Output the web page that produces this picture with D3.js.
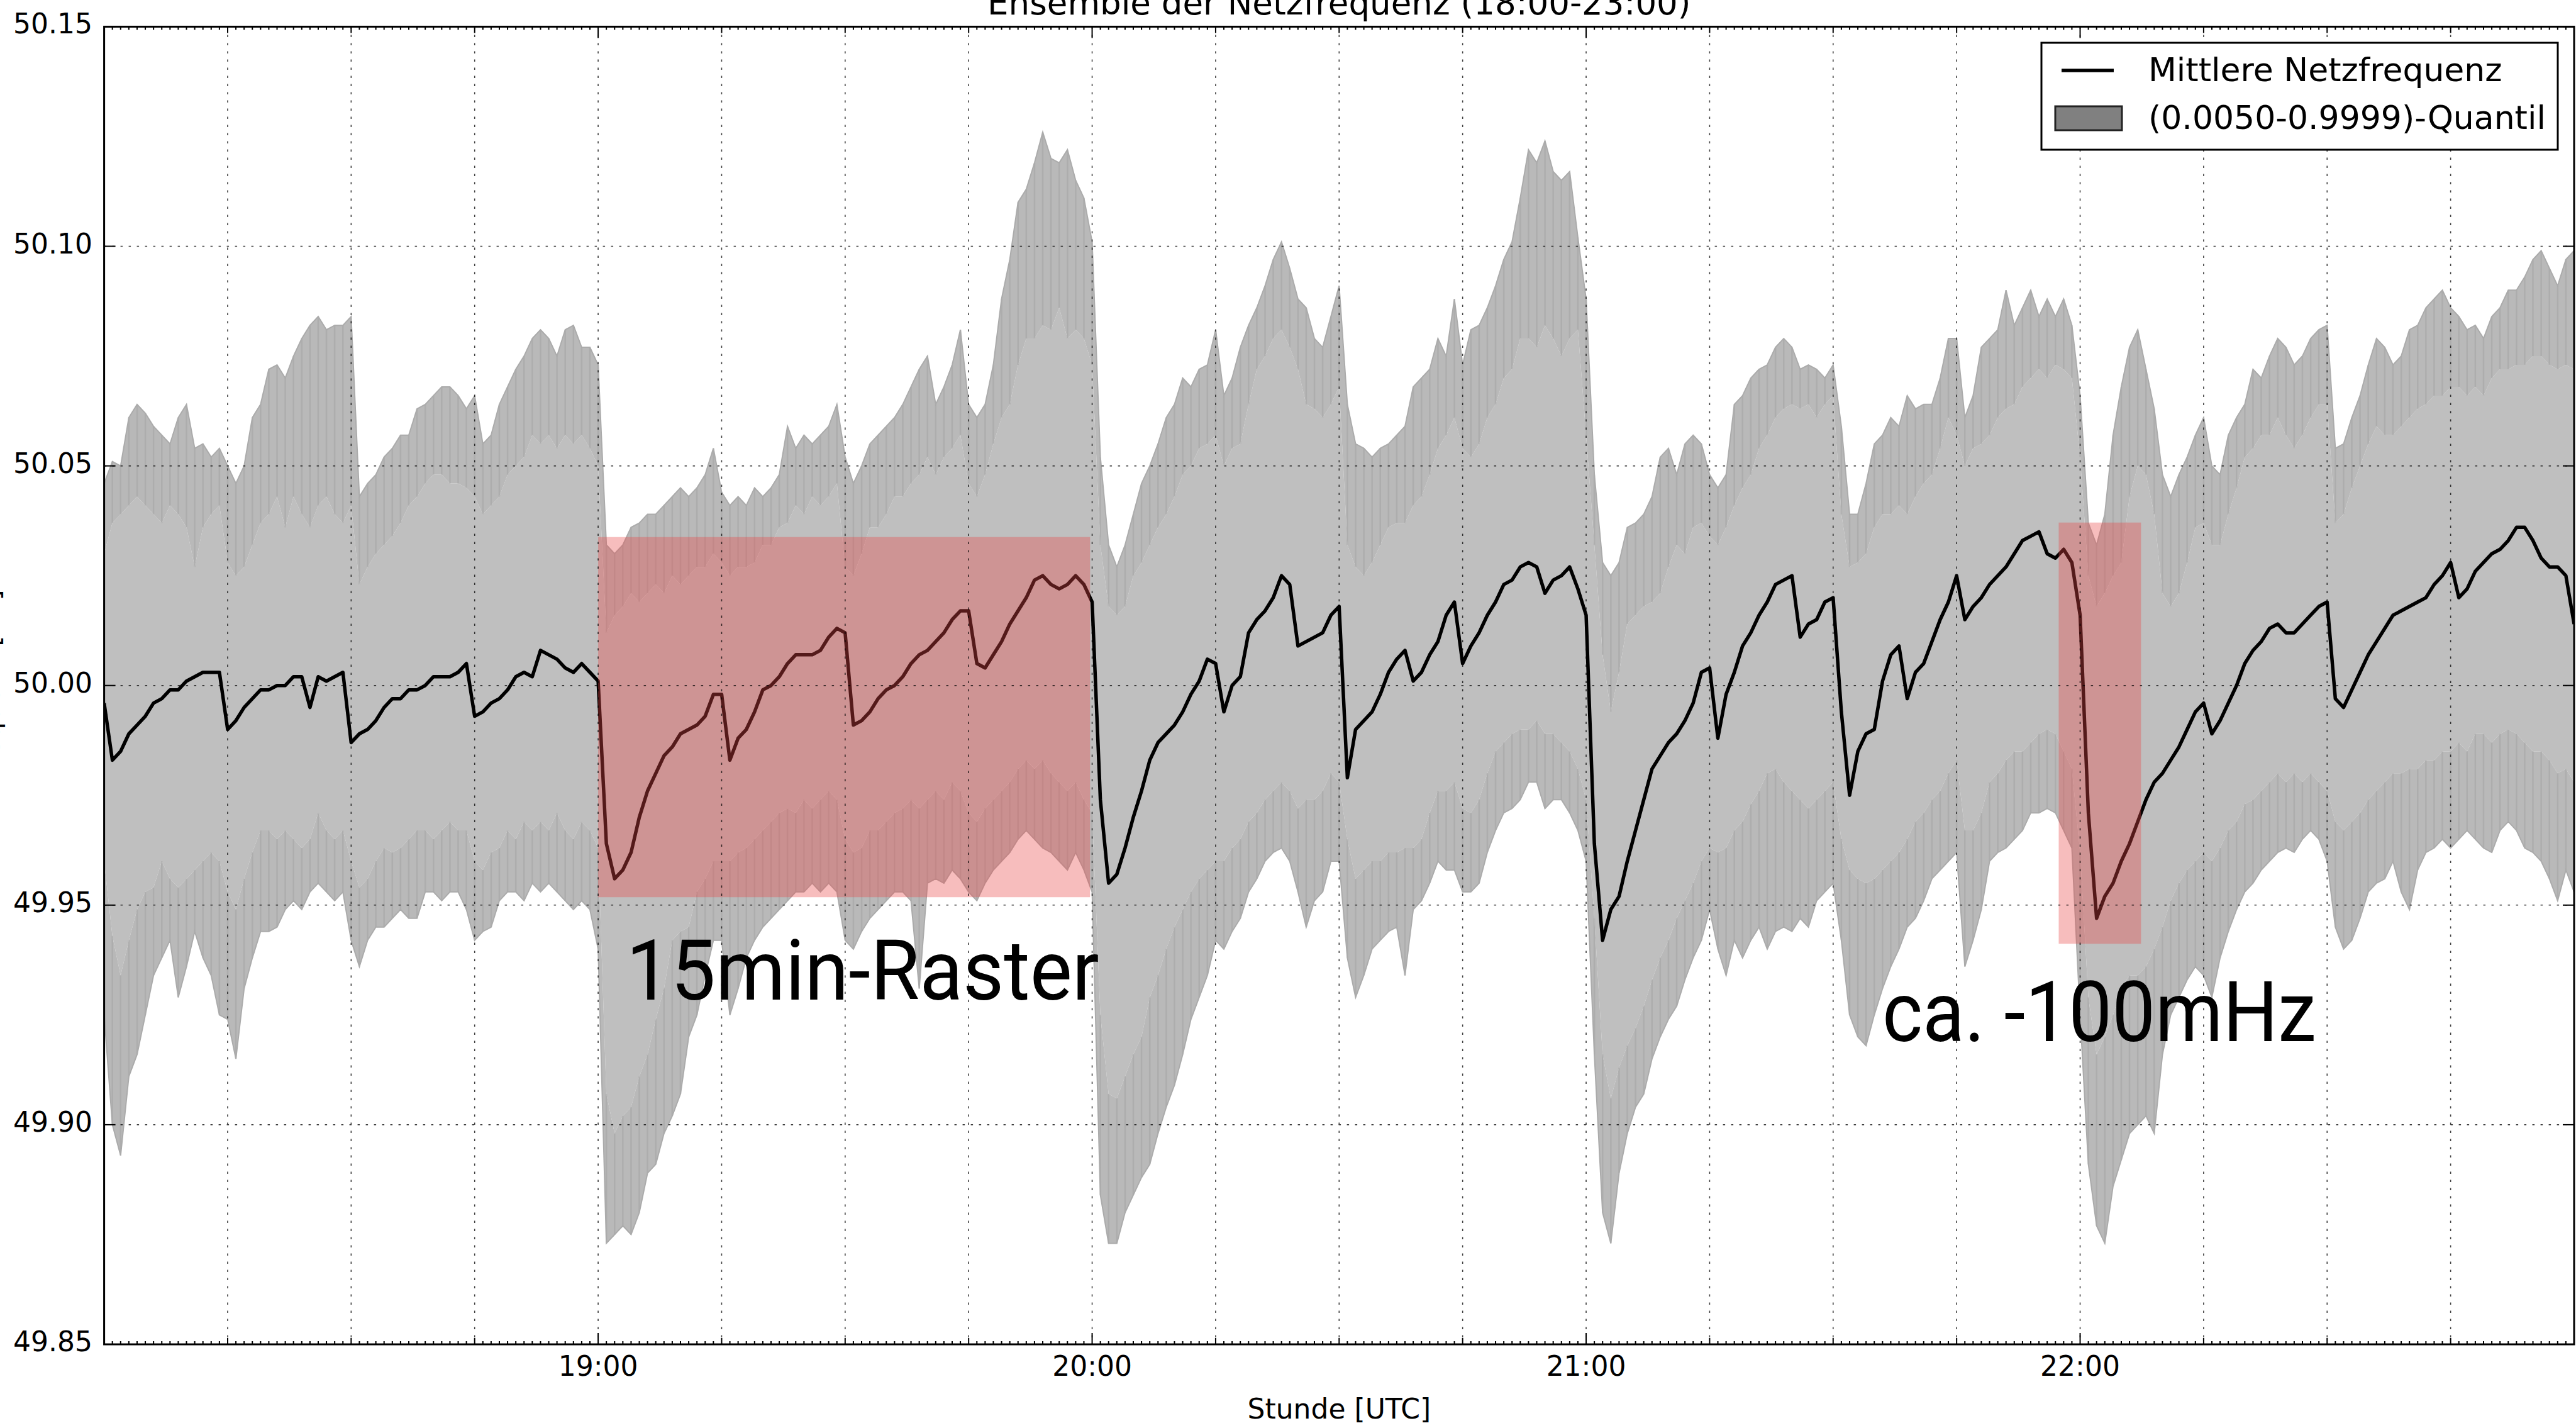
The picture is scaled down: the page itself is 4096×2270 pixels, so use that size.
<!DOCTYPE html>
<html>
<head>
<meta charset="utf-8">
<script src="https://cdn.jsdelivr.net/npm/d3@7"></script>
<style>
  html, body { margin: 0; padding: 0; background: #fff; }
  svg { display: block; }
</style>
</head>
<body>
<svg id="chart" width="4096" height="2270"></svg>
<script>
// Grid frequency ensemble, 18:00-23:00 UTC, one sample per minute.
// All series are deviations from 50 Hz in mHz.
const meanDev = [
  -4,-17,-15,-11,-9,-7,-4,-3,-1,-1,
  1,2,3,3,3,-10,-8,-5,-3,-1,
  -1,0,0,2,2,-5,2,1,2,3,
  -13,-11,-10,-8,-5,-3,-3,-1,-1,0,
  2,2,2,3,5,-7,-6,-4,-3,-1,
  2,3,2,8,7,6,4,3,5,3,
  1,-36,-44,-42,-38,-30,-24,-20,-16,-14,
  -11,-10,-9,-7,-2,-2,-17,-12,-10,-6,
  -1,0,2,5,7,7,7,8,11,13,
  12,-9,-8,-6,-3,-1,0,2,5,7,
  8,10,12,15,17,17,5,4,7,10,
  14,17,20,24,25,23,22,23,25,23,
  19,-26,-45,-43,-37,-30,-24,-17,-13,-11,
  -9,-6,-2,1,6,5,-6,0,2,12,
  15,17,20,25,23,9,10,11,12,16,
  18,-21,-10,-8,-6,-2,3,6,8,1,
  3,7,10,16,19,5,9,12,16,19,
  23,24,27,28,27,21,24,25,27,22,
  16,-36,-58,-51,-48,-40,-33,-26,-19,-16,
  -13,-11,-8,-4,3,4,-12,-2,3,9,
  12,16,19,23,24,25,11,14,15,19,
  20,-6,-25,-15,-11,-10,1,7,9,-3,
  3,5,10,15,19,25,15,18,20,23,
  25,27,30,33,34,35,30,29,31,28,
  16,-29,-53,-48,-45,-40,-36,-31,-26,-22,
  -20,-17,-14,-10,-6,-4,-11,-8,-4,0,
  5,8,10,13,14,12,12,14,16,18,
  19,-3,-5,-1,3,7,10,13,16,17,
  18,19,20,23,25,28,20,22,26,28,
  30,31,33,36,36,33,29,27,27,25,
  14
];

// 0.9999 quantile: spike tops and the inner edge of its ragged fringe
const upperOuter = [
  46,51,50,61,64,62,59,57,55,61,
  64,54,55,52,54,50,46,50,61,64,
  72,73,70,75,79,82,84,81,82,82,
  84,43,46,48,52,54,57,57,63,64,
  66,68,68,66,63,66,55,57,64,68,
  72,75,79,81,79,75,81,82,77,77,
  73,32,30,32,36,37,39,39,41,43,
  45,43,45,48,54,44,41,43,41,45,
  43,45,48,59,54,57,55,57,59,64,
  52,46,50,55,57,59,61,64,68,72,
  75,64,68,73,81,64,61,64,73,88,
  97,110,113,119,126,120,119,122,115,111,
  101,52,32,27,32,39,46,50,55,61,
  64,70,68,72,73,81,66,70,77,82,
  86,91,97,101,95,88,86,79,77,84,
  91,64,55,54,52,54,55,57,59,68,
  70,72,79,75,88,73,81,82,86,91,
  97,101,111,122,119,124,117,115,117,102,
  88,48,28,25,28,36,37,39,43,52,
  54,48,55,57,55,48,45,48,64,66,
  70,72,73,77,79,77,72,73,72,70,
  73,59,39,39,46,55,57,61,59,66,
  63,64,64,70,79,79,61,66,77,79,
  81,90,82,86,90,84,88,84,88,82,
  66,37,32,39,57,68,77,81,72,63,
  48,43,48,52,57,61,50,48,57,61,
  64,72,70,75,79,77,73,75,79,81,
  82,54,55,61,66,73,79,77,73,75,
  81,82,86,88,90,86,84,81,82,79,
  84,86,90,90,93,97,99,95,91,97,
  99
];
const upperInner = [
  30,37,39,41,43,41,39,37,41,39,
  36,27,36,39,41,28,25,27,32,37,
  39,43,36,43,39,36,41,43,39,37,
  41,23,27,30,32,34,37,41,43,46,
  48,48,46,46,45,43,39,41,43,48,
  50,52,57,55,57,54,57,55,57,54,
  50,12,16,18,21,19,21,23,21,25,
  23,25,27,27,30,28,25,27,27,28,
  32,32,36,37,41,39,43,41,43,46,
  27,25,30,36,36,39,43,43,46,48,
  52,48,52,54,57,46,43,48,55,61,
  64,73,79,79,82,81,86,79,81,79,
  73,32,18,16,18,25,28,32,36,39,
  43,48,50,54,55,57,50,54,55,64,
  72,75,79,81,77,72,64,63,61,64,
  68,32,27,25,28,32,36,37,37,41,
  43,48,54,57,61,54,52,55,61,64,
  70,72,79,79,77,82,79,75,79,81,
  57,32,7,-6,3,14,16,18,19,21,
  27,32,30,36,37,34,32,36,41,45,
  48,54,57,61,63,64,63,64,61,64,
  66,39,27,28,30,36,39,39,41,39,
  43,46,48,54,61,57,50,54,55,57,
  61,63,64,68,70,72,70,73,72,70,
  52,25,18,21,25,28,43,50,48,39,
  21,18,21,28,36,37,32,32,39,45,
  52,54,57,57,61,57,54,57,61,64,
  64,37,39,45,50,55,59,57,57,59,
  61,63,64,66,66,68,68,66,68,66,
  70,72,72,73,73,75,75,73,72,73,
  72
];

// 0.0050 quantile: inner edge of its fringe and the spike bottoms
const lowerInner = [
  -40,-57,-66,-58,-51,-47,-46,-40,-44,-46,
  -44,-42,-40,-38,-40,-47,-51,-44,-38,-33,
  -33,-35,-33,-35,-37,-35,-29,-33,-35,-33,
  -40,-46,-44,-40,-37,-38,-37,-35,-33,-33,
  -35,-33,-31,-33,-33,-40,-42,-38,-37,-33,
  -35,-31,-33,-31,-33,-29,-33,-35,-31,-33,
  -37,-93,-102,-98,-96,-89,-84,-76,-69,-58,
  -56,-55,-47,-44,-40,-40,-40,-38,-37,-35,
  -33,-31,-29,-28,-29,-26,-28,-26,-24,-26,
  -35,-38,-37,-33,-33,-31,-29,-28,-26,-28,
  -26,-24,-26,-22,-24,-29,-31,-28,-26,-24,
  -22,-19,-17,-19,-17,-20,-22,-24,-22,-26,
  -29,-75,-93,-94,-89,-84,-80,-71,-66,-60,
  -55,-51,-47,-44,-42,-40,-40,-37,-35,-31,
  -29,-26,-24,-22,-24,-28,-26,-26,-24,-20,
  -22,-35,-44,-42,-40,-40,-38,-38,-37,-37,
  -35,-29,-24,-24,-22,-28,-29,-26,-20,-15,
  -13,-11,-10,-10,-8,-11,-11,-13,-15,-19,
  -26,-53,-84,-94,-87,-82,-78,-73,-67,-62,
  -58,-53,-49,-45,-40,-37,-38,-37,-33,-31,
  -27,-24,-20,-19,-22,-24,-26,-28,-26,-24,
  -22,-35,-42,-44,-45,-44,-42,-40,-38,-35,
  -31,-29,-26,-24,-20,-17,-33,-33,-29,-22,
  -20,-17,-15,-15,-13,-11,-10,-11,-15,-19,
  -38,-71,-84,-80,-75,-69,-66,-66,-64,-60,
  -55,-49,-45,-42,-40,-38,-40,-37,-33,-31,
  -27,-26,-24,-22,-20,-22,-20,-22,-20,-22,
  -24,-31,-33,-31,-29,-26,-24,-22,-20,-20,
  -19,-19,-17,-17,-15,-15,-13,-15,-11,-11,
  -13,-11,-10,-11,-13,-15,-15,-17,-20,-19,
  -22
];
const lowerOuter = [
  -75,-100,-107,-89,-84,-75,-66,-62,-58,-71,
  -64,-56,-62,-66,-75,-76,-85,-69,-62,-56,
  -56,-55,-51,-49,-51,-47,-45,-47,-49,-47,
  -58,-64,-58,-55,-55,-53,-51,-53,-53,-47,
  -47,-49,-47,-47,-51,-58,-56,-55,-49,-47,
  -47,-49,-45,-47,-45,-47,-49,-51,-49,-51,
  -60,-127,-125,-123,-125,-120,-111,-109,-102,-98,
  -93,-80,-75,-66,-58,-58,-75,-69,-62,-58,
  -55,-53,-51,-49,-47,-47,-45,-47,-45,-47,
  -58,-60,-56,-53,-51,-49,-47,-47,-49,-69,
  -45,-44,-45,-42,-44,-47,-49,-45,-42,-40,
  -38,-35,-33,-35,-37,-38,-40,-42,-38,-42,
  -47,-116,-127,-127,-120,-116,-112,-109,-102,-96,
  -91,-84,-76,-71,-66,-58,-60,-56,-53,-47,
  -44,-40,-38,-37,-40,-47,-55,-49,-47,-40,
  -40,-62,-71,-66,-60,-58,-56,-55,-66,-51,
  -49,-45,-40,-42,-42,-47,-47,-45,-38,-33,
  -29,-28,-26,-22,-22,-28,-26,-26,-29,-33,
  -40,-84,-120,-127,-111,-102,-96,-93,-85,-80,
  -76,-73,-67,-62,-58,-51,-60,-66,-58,-62,
  -58,-55,-60,-56,-55,-56,-53,-55,-49,-47,
  -45,-58,-75,-80,-82,-75,-69,-64,-60,-55,
  -53,-49,-44,-42,-40,-38,-64,-58,-51,-40,
  -38,-37,-35,-33,-29,-29,-28,-29,-33,-37,
  -75,-109,-123,-127,-114,-108,-102,-100,-98,-102,
  -84,-75,-71,-67,-64,-66,-71,-62,-56,-51,
  -47,-45,-42,-40,-38,-37,-38,-35,-33,-35,
  -40,-55,-60,-58,-53,-47,-45,-44,-40,-47,
  -51,-42,-38,-37,-35,-37,-35,-33,-35,-37,
  -38,-33,-31,-33,-37,-38,-40,-44,-49,-42,
  -47
];

// Highlighted windows: start/end in minutes after 18:00, frequency bounds in Hz
const spanStart = [60, 237.4];
const spanEnd   = [119.75, 247.4];
const spanLow   = [49.9518, 49.9412];
const spanHigh  = [50.0338, 50.0371];
const spanNotes = ["15min-Raster", "ca. -100mHz"];

const yTickValues = [49.85, 49.90, 49.95, 50.00, 50.05, 50.10, 50.15];
const xLabelHours = [19, 20, 21, 22];
const legendLabels = ["Mittlere Netzfrequenz", "(0.0050-0.9999)-Quantil"];

const T0 = Date.UTC(2015, 0, 1, 18, 0, 0);
const atMin = m => new Date(T0 + m * 60000);
const hz = mhz => 50 + mhz / 1000;

const PL = 165.6, PR = 4093, PT = 42.4, PB = 2137;
const x = d3.scaleUtc().domain([atMin(0), atMin(300)]).range([PL, PR]);
const y = d3.scaleLinear().domain([49.85, 50.15]).range([PB, PT]);

const svg = d3.select("#chart");
const FONT = "'DejaVu Sans', sans-serif";

svg.append("defs").append("clipPath").attr("id", "plotclip")
  .append("rect").attr("x", PL).attr("y", PT).attr("width", PR - PL).attr("height", PB - PT);

const plot = svg.append("g").attr("clip-path", "url(#plotclip)");

const idx = d3.range(meanDev.length);
const band = (lo, hi) => d3.area()
  .x(i => x(atMin(i)))
  .y0(i => y(hz(lo[i])))
  .y1(i => y(hz(hi[i])));

// quantile band: solid core plus darker ragged fringes
plot.append("path").datum(idx).attr("d", band(lowerInner, upperInner)).attr("fill", "#bfbfbf");
plot.append("path").datum(idx).attr("d", band(upperInner, upperOuter)).attr("fill", "#b9b9b9");
plot.append("path").datum(idx).attr("d", band(lowerOuter, lowerInner)).attr("fill", "#b9b9b9");

const streaks = plot.append("g").attr("stroke", "#9c9c9c").attr("stroke-width", 2.5).attr("opacity", 0.38);
idx.forEach(i => {
  streaks.append("line").attr("x1", x(atMin(i))).attr("x2", x(atMin(i)))
    .attr("y1", y(hz(upperInner[i]))).attr("y2", y(hz(upperOuter[i])));
  streaks.append("line").attr("x1", x(atMin(i))).attr("x2", x(atMin(i)))
    .attr("y1", y(hz(lowerInner[i]))).attr("y2", y(hz(lowerOuter[i])));
});
plot.append("path").datum(idx)
  .attr("d", d3.line().x(i => x(atMin(i))).y(i => y(hz(upperOuter[i]))))
  .attr("fill", "none").attr("stroke", "#ababab").attr("stroke-width", 2);
plot.append("path").datum(idx)
  .attr("d", d3.line().x(i => x(atMin(i))).y(i => y(hz(lowerOuter[i]))))
  .attr("fill", "none").attr("stroke", "#ababab").attr("stroke-width", 2);

// dotted grid every quarter hour and every 50 mHz
const grid = svg.append("g").attr("stroke", "#000").attr("stroke-width", 1.6)
  .attr("stroke-dasharray", "3.5,9.5").attr("opacity", 0.75);
d3.range(15, 300, 15).forEach(m => {
  grid.append("line").attr("x1", x(atMin(m))).attr("x2", x(atMin(m))).attr("y1", PT).attr("y2", PB);
});
yTickValues.slice(1, -1).forEach(v => {
  grid.append("line").attr("x1", PL).attr("x2", PR).attr("y1", y(v)).attr("y2", y(v));
});

// ensemble mean
plot.append("path").datum(idx)
  .attr("d", d3.line().x(i => x(atMin(i))).y(i => y(hz(meanDev[i]))))
  .attr("fill", "none").attr("stroke", "#000").attr("stroke-width", 5.5)
  .attr("stroke-linejoin", "round");

// highlighted windows
spanStart.forEach((s, k) => {
  plot.append("rect")
    .attr("x", x(atMin(s))).attr("width", x(atMin(spanEnd[k])) - x(atMin(s)))
    .attr("y", y(spanHigh[k])).attr("height", y(spanLow[k]) - y(spanHigh[k]))
    .attr("fill", "rgb(232,72,72)").attr("opacity", 0.36);
});

// annotation texts
const notePos = [{m: 63.4, f: 49.9285, w: 752}, {m: 215.97, f: 49.9190, w: 690}];
spanNotes.forEach((t, k) => {
  svg.append("text").text(t)
    .attr("x", x(atMin(notePos[k].m))).attr("y", y(notePos[k].f))
    .attr("font-family", "Roboto, sans-serif").attr("font-size", 134)
    .attr("textLength", notePos[k].w).attr("lengthAdjust", "spacingAndGlyphs")
    .attr("fill", "#000");
});

// frame
svg.append("rect").attr("x", PL).attr("y", PT).attr("width", PR - PL).attr("height", PB - PT)
  .attr("fill", "none").attr("stroke", "#000").attr("stroke-width", 3);

// ticks (inward, all four sides)
const ticks = svg.append("g").attr("stroke", "#000").attr("stroke-width", 2);
d3.range(1, 300).forEach(m => {
  const len = m % 60 === 0 ? 18 : (m % 15 === 0 ? 10 : 5);
  const xx = x(atMin(m));
  ticks.append("line").attr("x1", xx).attr("x2", xx).attr("y1", PB).attr("y2", PB - len);
  ticks.append("line").attr("x1", xx).attr("x2", xx).attr("y1", PT).attr("y2", PT + len);
});
yTickValues.forEach(v => {
  ticks.append("line").attr("x1", PL).attr("x2", PL + 18).attr("y1", y(v)).attr("y2", y(v));
  ticks.append("line").attr("x1", PR).attr("x2", PR - 18).attr("y1", y(v)).attr("y2", y(v));
});

// tick labels
const fmtTime = d3.utcFormat("%H:%M");
xLabelHours.forEach(h => {
  svg.append("text").text(fmtTime(atMin((h - 18) * 60)))
    .attr("x", x(atMin((h - 18) * 60))).attr("y", 2187)
    .attr("text-anchor", "middle").attr("font-family", FONT).attr("font-size", 44).attr("fill", "#000");
});
yTickValues.forEach(v => {
  svg.append("text").text(v.toFixed(2))
    .attr("x", 147).attr("y", y(v)).attr("dy", "0.25em")
    .attr("text-anchor", "end").attr("font-family", FONT).attr("font-size", 44).attr("fill", "#000");
});

// axis titles and chart title
svg.append("text").text("Stunde [UTC]")
  .attr("x", (PL + PR) / 2).attr("y", 2255).attr("text-anchor", "middle")
  .attr("font-family", FONT).attr("font-size", 44).attr("fill", "#000");
svg.append("text").text("Frequenz [Hz]")
  .attr("transform", `translate(-1,${(PT + PB) / 2}) rotate(-90)`).attr("text-anchor", "middle")
  .attr("font-family", FONT).attr("font-size", 44).attr("fill", "#000");
svg.append("text").text("Ensemble der Netzfrequenz (18:00-23:00)")
  .attr("x", (PL + PR) / 2).attr("y", 23).attr("text-anchor", "middle")
  .attr("font-family", FONT).attr("font-size", 53).attr("fill", "#000");

// legend
const lg = svg.append("g");
lg.append("rect").attr("x", 3246).attr("y", 68).attr("width", 821).attr("height", 170)
  .attr("fill", "#fff").attr("stroke", "#000").attr("stroke-width", 3);
lg.append("line").attr("x1", 3278).attr("x2", 3361).attr("y1", 112).attr("y2", 112)
  .attr("stroke", "#000").attr("stroke-width", 5.5);
lg.append("rect").attr("x", 3268).attr("y", 169).attr("width", 106).attr("height", 38)
  .attr("fill", "#808080").attr("stroke", "#222").attr("stroke-width", 3);
lg.append("text").text(legendLabels[0]).attr("x", 3416).attr("y", 129)
  .attr("font-family", FONT).attr("font-size", 52).attr("fill", "#000");
lg.append("text").text(legendLabels[1]).attr("x", 3416).attr("y", 205)
  .attr("font-family", FONT).attr("font-size", 52).attr("fill", "#000");
</script>
</body>
</html>
